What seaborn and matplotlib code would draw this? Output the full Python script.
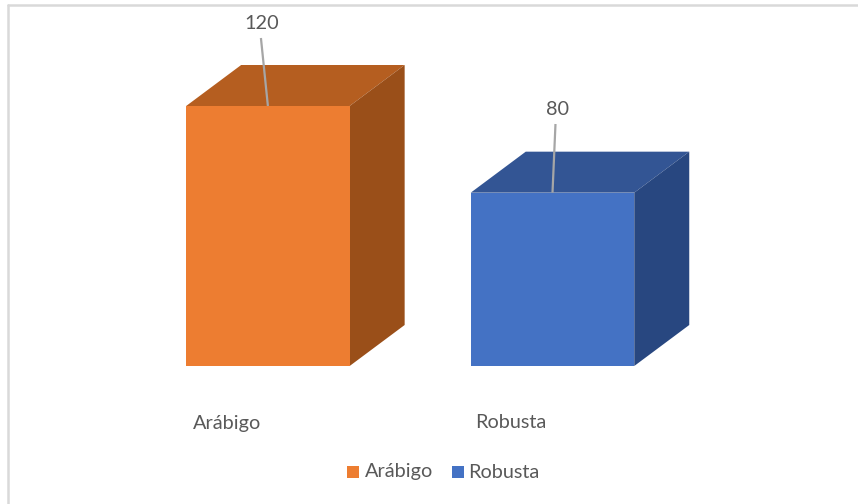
import matplotlib
matplotlib.use("Agg")
import matplotlib.pyplot as plt
import seaborn as sns
import pandas as pd
from matplotlib.patches import Polygon, Rectangle

categories = ["Arábigo", "Robusta"]
values = [120, 80]
front_colors = ["#ED7D31", "#4472C4"]
top_colors = ["#B55E20", "#335594"]
side_colors = ["#9A4F19", "#284780"]

W, H = 858, 504
X0, PX_PER_CAT = 267.9, 284.6      # pixel centre of first category, spacing
Y0, PX_PER_UNIT = 366.0, 260.0 / 120
BAR_W = 163.5 / PX_PER_CAT
DX, DY = 55 / PX_PER_CAT, 41 / PX_PER_UNIT

sns.set_theme(style="white")
plt.rcParams["font.family"] = ["Lato", "DejaVu Sans"]
TXT = "#595959"
FS = 14.3

fig = plt.figure(figsize=(W / 100, H / 100), dpi=100)
ax = fig.add_axes([0, 0, 1, 1])
df = pd.DataFrame({"cat": categories, "val": values})
sns.barplot(data=df, x="cat", y="val", hue="cat", palette=front_colors,
            width=BAR_W, saturation=1, legend=False, ax=ax, zorder=3,
            linewidth=0, edgecolor="none")
ax.set_xlim(-X0 / PX_PER_CAT, (W - X0) / PX_PER_CAT)
ax.set_ylim((Y0 - H) / PX_PER_UNIT, Y0 / PX_PER_UNIT)
ax.set_axis_off()

for i, v in enumerate(values):
    l, r = i - BAR_W / 2, i + BAR_W / 2
    ax.add_patch(Polygon([(l, v), (r, v), (r + DX, v + DY), (l + DX, v + DY)],
                         facecolor=top_colors[i], edgecolor="none", lw=0, zorder=2))
    ax.add_patch(Polygon([(r, 0), (r + DX, DY), (r + DX, v + DY), (r, v)],
                         facecolor=side_colors[i], edgecolor="none", lw=0, zorder=2))

# data labels with leader lines
def px(x, y):
    return (x - X0) / PX_PER_CAT, (Y0 - y) / PX_PER_UNIT

leaders = [(-0.0245, 38), (0.0105, 124)]
label_dx = [-6, 5]
label_base = [29, 115]
for i, v in enumerate(values):
    cx = X0 + i * PX_PER_CAT
    ox, oy = leaders[i]
    ax.plot([i + ox, i], [(Y0 - oy) / PX_PER_UNIT, v], color="#A6A6A6", lw=1.6,
            zorder=4, solid_capstyle="butt")
    ax.text(*px(cx + label_dx[i], label_base[i]), str(v), ha="center", va="baseline",
            fontsize=FS, color=TXT)

# category labels
cat_px = [227, 511]
for c, xp in zip(categories, cat_px):
    ax.text(*px(xp, 428.5), c, ha="center", va="baseline", fontsize=FS, color=TXT)

# legend
leg_sq = [347, 452]
leg_txt = [365, 468]
for c, col, sq, tx in zip(categories, front_colors, leg_sq, leg_txt):
    fig.add_artist(Rectangle((sq / W, 1 - 478 / H), 12 / W, 12 / H,
                             transform=fig.transFigure, facecolor=col, edgecolor="none", lw=0))
    fig.text(tx / W, 1 - 477.5 / H, c, ha="left", va="baseline", fontsize=FS, color=TXT)

# chart frame: left and top only
fig.add_artist(plt.Line2D([8 / W, 8 / W], [0, 1 - 5 / H], color="#D9D9D9", lw=1.8,
                          transform=fig.transFigure))
fig.add_artist(plt.Line2D([8 / W, 1], [1 - 5 / H, 1 - 5 / H], color="#D9D9D9", lw=1.8,
                          transform=fig.transFigure))

fig.savefig("out.png", dpi=100)
